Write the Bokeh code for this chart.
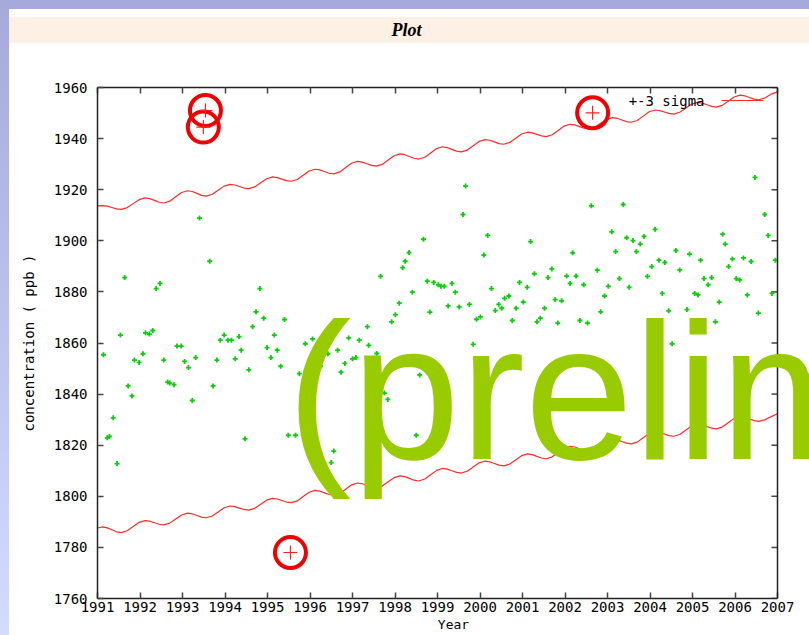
import numpy as np
from bokeh.plotting import figure
from bokeh.layouts import row, column
from bokeh.models import Range1d, LinearAxis, FixedTicker, Label, Span, Div
from bokeh.embed import file_html
from bokeh.resources import INLINE

# ---------------- data ----------------
x_ticks = list(range(1991, 2008))
y_ticks = list(range(1760, 1961, 20))

obs_year = [
    1993.40, 1993.64, 1991.64, 1992.47, 1992.38, 1991.54, 1992.13, 1992.22, 1992.30, 1991.14,
    1992.07, 1991.87, 1991.98, 1992.56, 1992.87, 1992.97, 1993.05, 1993.14, 1993.31, 1993.81,
    1993.89, 1993.98, 1994.07, 1994.15, 1991.72, 1991.81, 1992.65, 1992.70, 1992.80, 1993.23,
    1993.72, 1991.37, 1991.23, 1991.28, 1991.46,
    1994.82, 1994.73, 1994.91, 1995.40, 1994.65, 1994.33, 1995.16, 1994.99, 1995.23, 1994.38,
    1994.24, 1995.08, 1995.31, 1994.56, 1995.89, 1996.06, 1996.25, 1996.33, 1996.42, 1995.75,
    1996.65, 1996.91, 1996.82, 1996.73, 1997.00, 1997.08, 1997.16, 1997.35, 1997.38, 1994.47,
    1995.49, 1995.66, 1996.56, 1996.50,
    1999.66, 1999.60, 1998.67, 2000.18, 1998.33, 1998.24, 1998.18, 2000.09, 1997.66, 1998.76,
    1998.91, 1999.02, 1999.08, 1999.16, 1999.34, 1999.42, 1998.41, 2000.27, 2000.58, 1998.10,
    1999.25, 1999.51, 1999.75, 2000.44, 2000.51, 2000.36, 1998.82, 1998.01, 1997.92, 2000.01,
    1999.92, 1997.57, 1999.84, 1998.58, 1997.75, 1997.83, 1998.50,
    2002.62, 2003.37, 2001.19, 2003.10, 2003.45, 2003.60, 2003.77, 2002.18, 2003.19, 2003.68,
    2001.69, 2002.76, 2001.28, 2001.60, 2002.04, 2002.26, 2002.12, 2002.44, 2003.28, 2003.02,
    2003.51, 2000.93, 2001.11, 2002.93, 2000.68, 2001.02, 2001.77, 2001.92, 2000.85, 2001.52,
    2002.84, 2001.42, 2000.76, 2001.34, 2001.83, 2002.35, 2002.53,
    2006.47, 2006.70, 2006.78, 2004.12, 2003.86, 2005.71, 2005.77, 2004.61, 2004.93, 2004.21,
    2004.35, 2005.19, 2005.94, 2006.20, 2006.38, 2006.95, 2004.04, 2005.85, 2004.70, 2003.94,
    2005.27, 2005.45, 2005.37, 2006.03, 2006.11, 2004.29, 2005.05, 2005.13, 2006.29, 2006.87,
    2005.63, 2004.44, 2004.87, 2006.55, 2005.54, 2004.52,
]
obs_ppb = [
    1908.9, 1892.0, 1885.6, 1883.3, 1881.3, 1863.1, 1864.0, 1863.5, 1864.9, 1855.4,
    1855.8, 1853.3, 1852.4, 1853.3, 1858.8, 1858.8, 1852.8, 1850.4, 1854.3, 1853.3,
    1861.1, 1863.1, 1861.1, 1861.1, 1843.2, 1839.3, 1844.7, 1844.3, 1843.7, 1837.5,
    1843.2, 1830.7, 1822.9, 1823.4, 1812.8,
    1881.3, 1872.2, 1869.7, 1869.2, 1866.4, 1862.5, 1863.1, 1858.2, 1857.2, 1857.2,
    1853.8, 1854.3, 1850.9, 1849.5, 1859.7, 1861.6, 1850.9, 1856.7, 1855.8, 1848.0,
    1857.2, 1862.0, 1852.0, 1848.6, 1853.8, 1854.3, 1861.1, 1866.4, 1859.1, 1822.5,
    1823.9, 1823.9, 1817.7, 1813.2,
    1921.4, 1910.3, 1900.6, 1902.1, 1895.4, 1892.0, 1889.5, 1894.4, 1886.1, 1884.2,
    1883.7, 1882.8, 1882.2, 1882.2, 1883.3, 1879.9, 1879.9, 1881.3, 1877.5, 1875.6,
    1874.5, 1874.1, 1875.1, 1875.1, 1873.6, 1872.7, 1872.1, 1871.1, 1868.3, 1870.2,
    1869.3, 1855.9, 1859.5, 1847.5, 1840.4, 1837.9, 1823.9,
    1913.7, 1914.2, 1899.7, 1903.5, 1901.2, 1900.1, 1898.7, 1895.3, 1895.8, 1895.8,
    1889.0, 1888.5, 1887.1, 1885.6, 1886.2, 1886.2, 1883.3, 1882.8, 1885.2, 1882.2,
    1881.8, 1883.7, 1881.8, 1878.4, 1878.4, 1876.0, 1877.0, 1876.5, 1873.6, 1873.6,
    1872.2, 1869.7, 1868.8, 1868.3, 1867.8, 1868.8, 1867.8,
    1924.8, 1910.3, 1902.1, 1904.5, 1901.7, 1902.6, 1898.7, 1896.2, 1894.8, 1892.4,
    1891.5, 1892.4, 1892.9, 1893.3, 1891.9, 1892.4, 1889.9, 1889.9, 1888.6, 1886.1,
    1885.2, 1885.6, 1882.8, 1885.2, 1884.7, 1879.4, 1879.4, 1878.8, 1878.8, 1879.4,
    1876.0, 1872.6, 1873.1, 1871.7, 1868.3, 1859.7,
]

flag_year = [1993.54, 1993.49, 2002.65, 1995.54]
flag_ppb = [1951.0, 1944.5, 1950.1, 1778.0]

sigma_year = [
    1991.00,
    1991.12, 1991.23, 1991.34, 1991.45, 1991.56, 1991.70, 1991.84, 1991.98,
    1992.12, 1992.23, 1992.34, 1992.45, 1992.56, 1992.70, 1992.84, 1992.98,
    1993.12, 1993.23, 1993.34, 1993.45, 1993.56, 1993.70, 1993.84, 1993.98,
    1994.12, 1994.23, 1994.34, 1994.45, 1994.56, 1994.70, 1994.84, 1994.98,
    1995.12, 1995.23, 1995.34, 1995.45, 1995.56, 1995.70, 1995.84, 1995.98,
    1996.12, 1996.23, 1996.34, 1996.45, 1996.56, 1996.70, 1996.84, 1996.98,
    1997.12, 1997.23, 1997.34, 1997.45, 1997.56, 1997.70, 1997.84, 1997.98,
    1998.12, 1998.23, 1998.34, 1998.45, 1998.56, 1998.70, 1998.84, 1998.98,
    1999.12, 1999.23, 1999.34, 1999.45, 1999.56, 1999.70, 1999.84, 1999.98,
    2000.12, 2000.23, 2000.34, 2000.45, 2000.56, 2000.70, 2000.84, 2000.98,
    2001.12, 2001.23, 2001.34, 2001.45, 2001.56, 2001.70, 2001.84, 2001.98,
    2002.12, 2002.23, 2002.34, 2002.45, 2002.56, 2002.70, 2002.84, 2002.98,
    2003.12, 2003.23, 2003.34, 2003.45, 2003.56, 2003.70, 2003.84, 2003.98,
    2004.12, 2004.23, 2004.34, 2004.45, 2004.56, 2004.70, 2004.84, 2004.98,
    2005.12, 2005.23, 2005.34, 2005.45, 2005.56, 2005.70, 2005.84, 2005.98,
    2006.12, 2006.23, 2006.34, 2006.45, 2006.56, 2006.70, 2006.84, 2007.00,
]
upper_ppb = [
    1913.7,
    1913.8, 1913.6, 1913.05, 1912.5, 1912.3, 1913.0, 1914.55, 1916.1,
    1916.8, 1916.5, 1915.8, 1915.1, 1914.8, 1915.5, 1917.2, 1918.9,
    1919.6, 1919.3, 1918.55, 1917.8, 1917.5, 1918.2, 1919.8, 1921.4,
    1922.1, 1921.85, 1921.25, 1920.65, 1920.4, 1921.1, 1922.7, 1924.3,
    1925.0, 1924.75, 1924.15, 1923.55, 1923.3, 1924.0, 1925.65, 1927.3,
    1928.0, 1927.75, 1927.1, 1926.45, 1926.2, 1926.95, 1928.65, 1930.35,
    1931.1, 1930.8, 1930.15, 1929.5, 1929.2, 1929.9, 1931.6, 1933.3,
    1934.0, 1933.7, 1933.0, 1932.3, 1932.0, 1932.7, 1934.4, 1936.1,
    1936.8, 1936.5, 1935.8, 1935.1, 1934.8, 1935.5, 1937.2, 1938.9,
    1939.6, 1939.35, 1938.7, 1938.05, 1937.8, 1938.5, 1940.15, 1941.8,
    1942.5, 1942.25, 1941.65, 1941.05, 1940.8, 1941.5, 1943.2, 1944.9,
    1945.6, 1945.35, 1944.7, 1944.05, 1943.8, 1944.45, 1946.0, 1947.55,
    1948.2, 1947.95, 1947.3, 1946.65, 1946.4, 1947.1, 1948.8, 1950.5,
    1951.2, 1950.95, 1950.4, 1949.85, 1949.6, 1950.3, 1951.9, 1953.5,
    1954.2, 1953.9, 1953.25, 1952.6, 1952.3, 1953.0, 1954.65, 1956.3,
    1957.0, 1956.75, 1956.1, 1955.45, 1955.2, 1955.9, 1957.3, 1958.3,
]
lower_ppb = [
    1787.6,
    1788.0, 1787.65, 1786.9, 1786.1, 1785.8, 1786.5, 1788.15, 1789.8,
    1790.5, 1790.25, 1789.65, 1789.05, 1788.8, 1789.5, 1791.1, 1792.7,
    1793.4, 1793.15, 1792.5, 1791.85, 1791.6, 1792.3, 1793.9, 1795.5,
    1796.2, 1795.95, 1795.4, 1794.85, 1794.6, 1795.3, 1796.9, 1798.5,
    1799.2, 1798.95, 1798.35, 1797.75, 1797.5, 1798.2, 1799.9, 1801.6,
    1802.3, 1802.0, 1801.35, 1800.7, 1800.4, 1801.1, 1802.8, 1804.5,
    1805.2, 1804.9, 1804.25, 1803.6, 1803.3, 1804.0, 1805.65, 1807.3,
    1808.0, 1807.7, 1807.0, 1806.3, 1806.0, 1806.75, 1808.45, 1810.15,
    1810.9, 1810.65, 1810.0, 1809.35, 1809.1, 1809.8, 1811.45, 1813.1,
    1813.8, 1813.5, 1812.85, 1812.2, 1811.9, 1812.6, 1814.25, 1815.9,
    1816.6, 1816.3, 1815.65, 1815.0, 1814.7, 1815.45, 1817.15, 1818.85,
    1819.6, 1819.3, 1818.6, 1817.9, 1817.6, 1818.3, 1820.0, 1821.7,
    1822.4, 1822.1, 1821.45, 1820.8, 1820.5, 1821.2, 1822.9, 1824.6,
    1825.3, 1825.05, 1824.4, 1823.75, 1823.5, 1824.2, 1825.85, 1827.5,
    1828.2, 1827.95, 1827.3, 1826.65, 1826.4, 1827.1, 1828.8, 1830.5,
    1831.2, 1830.9, 1830.25, 1829.6, 1829.3, 1829.9, 1831.1, 1832.3,
]

# ---------------- layout ----------------
PAGE_W, PAGE_H = 809, 635
STRIP = 9            # lavender slide frame
TITLE_TOP, TITLE_H = 17, 26
FIG_TOP = TITLE_TOP + TITLE_H
FIG_W, FIG_H = PAGE_W - STRIP, PAGE_H - FIG_TOP
PLOT_L, PLOT_R, PLOT_T, PLOT_B = 97, 777, 87, 598   # page pixels of the plot box

x0, x1 = 1991, 2007
y0, y1 = 1760, 1960
kx = (PLOT_R - PLOT_L) / (x1 - x0)
ky = (PLOT_B - PLOT_T) / (y1 - y0)
x_end = x1 + (PAGE_W - PLOT_R) / kx   # frame runs on to the page edge


def sx(px):
    return x0 + (px - PLOT_L) / kx


def sy(py):
    return y1 - (py - PLOT_T) / ky


p = figure(width=FIG_W, height=FIG_H, x_range=Range1d(x0, x_end), y_range=Range1d(y0, y1),
           output_backend="svg", toolbar_location=None, title=None,
           min_border_left=PLOT_L - STRIP, min_border_right=0,
           min_border_top=PLOT_T - FIG_TOP, min_border_bottom=PAGE_H - PLOT_B)
p.margin = 0
p.background_fill_color = "white"
p.border_fill_color = "white"
p.xgrid.visible = False
p.ygrid.visible = False
p.outline_line_color = None

MONO = "DejaVu Sans Mono"
AX_COL = "#222222"
TICK_COL = "#444444"


def style_axis(ax, ticks, labels=True):
    ax.ticker = FixedTicker(ticks=ticks)
    ax.major_tick_in = 6
    ax.major_tick_out = 0
    ax.minor_tick_in = 0
    ax.minor_tick_out = 0
    ax.axis_line_color = AX_COL
    ax.axis_line_width = 1.5
    ax.major_tick_line_color = TICK_COL
    ax.major_tick_line_width = 1.5
    ax.major_label_text_font = MONO
    ax.major_label_text_font_size = "14px"
    ax.major_label_text_color = "black"
    if not labels:
        ax.major_label_overrides = {t: "" for t in ticks}
        ax.major_label_standoff = 0


xa = p.xaxis[0]
style_axis(xa, x_ticks)
xa.bounds = (x0, x1)
xa.major_label_standoff = 3
xa.axis_label = "Year"
xa.axis_label_text_font = MONO
xa.axis_label_text_font_size = "13px"
xa.axis_label_text_font_style = "normal"
xa.axis_label_text_color = "black"
xa.axis_label_standoff = 2

ya = p.yaxis[0]
style_axis(ya, y_ticks)
ya.major_label_standoff = 10
ya.axis_label = "concentration ( ppb )"
ya.axis_label_text_font = MONO
ya.axis_label_text_font_size = "14px"
ya.axis_label_text_font_style = "normal"
ya.axis_label_text_color = "black"
ya.axis_label_standoff = 14

top_ax = LinearAxis()
style_axis(top_ax, x_ticks, labels=False)
top_ax.bounds = (x0, x1)
p.add_layout(top_ax, "above")

# right border of the plot box with inward ticks
p.add_layout(Span(location=x1, dimension="height", line_color=AX_COL, line_width=1.5))
p.segment(x0=[x1 - 6 / kx] * len(y_ticks), y0=y_ticks, x1=[x1] * len(y_ticks), y1=y_ticks,
          line_color=TICK_COL, line_width=1.5)

# data
p.line(sigma_year, upper_ppb, line_color="#ff2a2a", line_width=1.2)
p.line(sigma_year, lower_ppb, line_color="#ff2a2a", line_width=1.2)
p.scatter(obs_year, obs_ppb, marker="cross", size=5, line_color="#10cc10", line_width=1.8)
p.scatter(flag_year, flag_ppb, marker="circle", size=31, fill_color=None,
          line_color="#f00000", line_width=4)
p.scatter(flag_year, flag_ppb, marker="cross", size=14, line_color="#ff2020", line_width=1.2)

# key
p.add_layout(Label(x=sx(704), y=sy(100), text="+-3 sigma", text_font=MONO,
                   text_font_size="14px", text_color="black", text_align="right",
                   text_baseline="middle"))
p.line([sx(721), sx(763)], [sy(100), sy(100)], line_color="#ff2a2a", line_width=1.2)

# watermark (anchor tuned so that its letters sit on y = 456 px)
p.add_layout(Label(x=sx(286), y=sy(390), text="(prelim",
                   text_font="Liberation Sans", text_font_size="195px",
                   text_color="#99cc00", text_align="left",
                   text_baseline="alphabetic", level="overlay"))

# slide frame around the figure
left_strip = Div(text="", width=STRIP, height=PAGE_H, margin=0,
                 styles={"background": "linear-gradient(to bottom, #a5a9dc, #d2dcff)"})
top_strip = Div(text="", width=FIG_W, height=STRIP, margin=0,
                styles={"background": "#a5a9dc"})
gap = Div(text="", width=FIG_W, height=TITLE_TOP - STRIP, margin=0,
          styles={"background": "white"})
title_bar = Div(text="Plot", width=FIG_W, height=TITLE_H, margin=0,
                styles={"background": "#fdf1e5", "text-align": "center",
                        "font-family": "'Liberation Serif', serif", "font-style": "italic",
                        "font-weight": "bold", "font-size": "18px",
                        "line-height": "%dpx" % TITLE_H, "padding-right": "5px",
                        "box-sizing": "border-box", "color": "black"})

root = row(left_strip, column(top_strip, gap, title_bar, p, spacing=0), spacing=0)

open("out.html", "w").write(file_html(root, INLINE))
